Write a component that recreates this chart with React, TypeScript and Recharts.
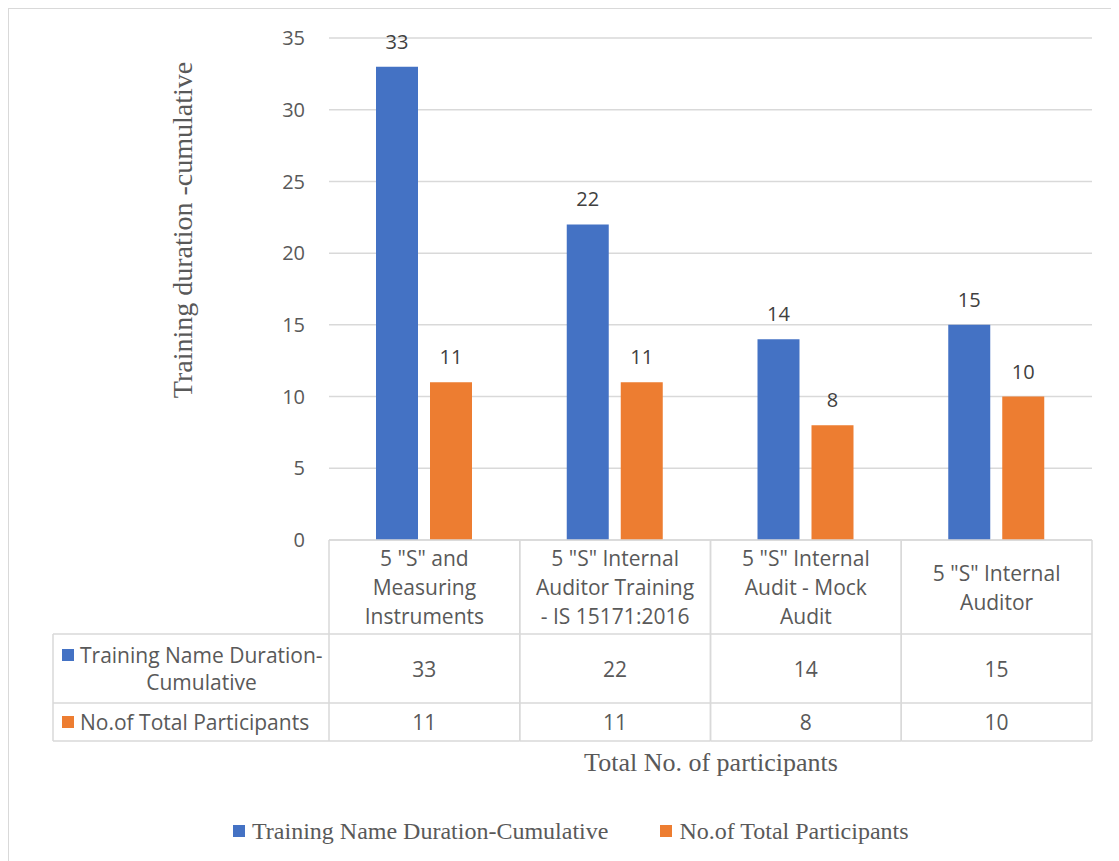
import { BarChart, Bar, XAxis, YAxis, CartesianGrid, LabelList } from 'recharts'

const categories = [
  '5 "S" and Measuring Instruments',
  '5 "S" Internal Auditor Training - IS 15171:2016',
  '5 "S" Internal Audit - Mock Audit',
  '5 "S" Internal Auditor',
]
const durationValues = [33, 22, 14, 15]
const participantValues = [11, 11, 8, 10]
const yTicks = [0, 5, 10, 15, 20, 25, 30, 35]
const seriesNames = ['Training Name Duration-Cumulative', 'No.of Total Participants']
const seriesKeys = ['duration', 'participants']
const seriesColors = ['#4472C4', '#ED7D31']

const data = categories.map((name, i) => ({
  name,
  duration: durationValues[i],
  participants: participantValues[i],
}))

const W = 1100
const H = 840
const MARGIN = { top: 29, right: 17, left: 0, bottom: 104 }
const Y_AXIS_W = 320
const X_AXIS_H = 205
const PLOT_W = W - MARGIN.left - MARGIN.right - Y_AXIS_W

const SANS = '"Open Sans", sans-serif'
const SERIF = '"Liberation Serif", "Times New Roman", serif'
const TEXT = '#595959'
const LINE = '#d9d9d9'

// table rows (relative to the axis top)
const HEADER_H = 94
const ROW2_H = 69
const ROW3_H = 38
const LEFT_COL_W = 276
const TABLE_FONT = 21

function wrap(text: string, max: number) {
  const words = text.split(' ')
  const lines: string[] = []
  let cur = ''
  words.forEach((w) => {
    const next = cur ? cur + ' ' + w : w
    if (next.length > max && cur) {
      lines.push(cur)
      cur = w
    } else {
      cur = next
    }
  })
  if (cur) lines.push(cur)
  return lines
}

function seriesLabelLines(name: string) {
  if (name.length > 26 && name.includes('-')) {
    const i = name.indexOf('-') + 1
    return [name.slice(0, i), name.slice(i)]
  }
  return [name]
}

function TableTick(props: any) {
  const { x, y, payload, index } = props
  const band = payload && payload.offset ? payload.offset * 2 : PLOT_W / categories.length
  const half = band / 2
  const left = x - half
  const right = x + half
  const yHead = y
  const yRow2 = y + HEADER_H
  const yRow3 = yRow2 + ROW2_H
  const yEnd = yRow3 + ROW3_H
  const lines = wrap(String(payload.value), 16)
  const lh = 29
  const headCenter = yHead + HEADER_H / 2
  const firstLine = headCenter - ((lines.length - 1) * lh) / 2
  const values = [durationValues[index], participantValues[index]]
  const rowCenters = [yRow2 + ROW2_H / 2, yRow3 + ROW3_H / 2]

  const lineStyle = { stroke: LINE, strokeWidth: 1.5 }
  return (
    <g>
      <line x1={left} x2={right} y1={yHead} y2={yHead} {...lineStyle} />
      <line x1={left} x2={right} y1={yRow2} y2={yRow2} {...lineStyle} />
      <line x1={left} x2={right} y1={yRow3} y2={yRow3} {...lineStyle} />
      <line x1={left} x2={right} y1={yEnd} y2={yEnd} {...lineStyle} />
      <line x1={left} x2={left} y1={yHead} y2={yEnd} {...lineStyle} />
      <line x1={right} x2={right} y1={yHead} y2={yEnd} {...lineStyle} />
      {lines.map((l, i) => (
        <text
          key={i}
          x={x}
          y={firstLine + i * lh}
          textAnchor="middle"
          dominantBaseline="central"
          fill={TEXT}
          fontSize={TABLE_FONT}
          fontFamily={SANS}
        >
          {l}
        </text>
      ))}
      {values.map((v, i) => (
        <text
          key={'v' + i}
          x={x}
          y={rowCenters[i]}
          textAnchor="middle"
          dominantBaseline="central"
          fill={TEXT}
          fontSize={TABLE_FONT}
          fontFamily={SANS}
        >
          {v}
        </text>
      ))}
      {index === 0 && (
        <g>
          <line x1={left - LEFT_COL_W} x2={left} y1={yRow2} y2={yRow2} {...lineStyle} />
          <line x1={left - LEFT_COL_W} x2={left} y1={yRow3} y2={yRow3} {...lineStyle} />
          <line x1={left - LEFT_COL_W} x2={left} y1={yEnd} y2={yEnd} {...lineStyle} />
          <line
            x1={left - LEFT_COL_W}
            x2={left - LEFT_COL_W}
            y1={yRow2}
            y2={yEnd}
            {...lineStyle}
          />
          {seriesNames.map((name, si) => {
            const sl = seriesLabelLines(name)
            const rowTop = si === 0 ? yRow2 : yRow3
            const rowH = si === 0 ? ROW2_H : ROW3_H
            const slh = 27
            const first = rowTop + rowH / 2 - ((sl.length - 1) * slh) / 2
            const colLeft = left - LEFT_COL_W
            const textStart = colLeft + 27
            const textCx = colLeft + 27 + (LEFT_COL_W - 27 - 6) / 2
            return (
              <g key={name}>
                <rect x={colLeft + 9} y={first - 6} width={12} height={12} fill={seriesColors[si]} />
                {sl.map((l, li) => (
                  <text
                    key={li}
                    x={li === 0 ? textStart : textCx}
                    y={first + li * slh}
                    textAnchor={li === 0 ? 'start' : 'middle'}
                    dominantBaseline="central"
                    fill={TEXT}
                    fontSize={TABLE_FONT}
                    fontFamily={SANS}
                  >
                    {l}
                  </text>
                ))}
              </g>
            )
          })}
        </g>
      )}
    </g>
  )
}

export default function App() {
  return (
    <div
      style={{
        position: 'relative',
        width: 1125,
        height: 870,
        border: `1px solid ${LINE}`,
        boxSizing: 'border-box',
        background: '#fff',
      }}
    >
      <BarChart
        width={W}
        height={H}
        data={data}
        margin={MARGIN}
        barCategoryGap={47}
        barGap={12}
      >
        <CartesianGrid vertical={false} stroke={LINE} strokeWidth={1.5} />
        <XAxis
          dataKey="name"
          height={X_AXIS_H}
          axisLine={false}
          tickLine={false}
          tickSize={0}
          tickMargin={0}
          interval={0}
          tick={<TableTick />}
        />
        <YAxis
          width={Y_AXIS_W}
          domain={[0, 35]}
          ticks={yTicks}
          axisLine={false}
          tickLine={false}
          tickSize={0}
          tickMargin={24}
          tick={{ fill: TEXT, fontSize: 20, fontFamily: SANS }}
        />
        {seriesKeys.map((k, i) => (
          <Bar key={k} dataKey={k} name={seriesNames[i]} fill={seriesColors[i]} isAnimationActive={false}>
            <LabelList
              dataKey={k}
              position="top"
              offset={18}
              fill="#404040"
              fontSize={20}
              fontFamily={SANS}
            />
          </Bar>
        ))}
      </BarChart>
      <div
        style={{
          position: 'absolute',
          left: -26,
          top: 207,
          width: 400,
          height: 28,
          lineHeight: '28px',
          textAlign: 'center',
          transform: 'rotate(-90deg)',
          fontFamily: SERIF,
          fontSize: 28,
          color: TEXT,
          whiteSpace: 'nowrap',
        }}
      >
        Training duration -cumulative
      </div>
      <div
        style={{
          position: 'absolute',
          left: 502,
          top: 740,
          width: 400,
          lineHeight: '28px',
          textAlign: 'center',
          fontFamily: SERIF,
          fontSize: 26,
          color: TEXT,
          whiteSpace: 'nowrap',
        }}
      >
        Total No. of participants
      </div>
      <div
        style={{
          position: 'absolute',
          left: 224,
          top: 808,
          display: 'flex',
          alignItems: 'center',
          gap: 52,
          fontFamily: SERIF,
          fontSize: 24,
          color: TEXT,
          lineHeight: '28px',
          whiteSpace: 'nowrap',
        }}
      >
        {seriesNames.map((n, i) => (
          <div key={n} style={{ display: 'flex', alignItems: 'center', gap: 7 }}>
            <span style={{ display: 'inline-block', width: 12, height: 12, background: seriesColors[i] }} />
            <span>{n}</span>
          </div>
        ))}
      </div>
    </div>
  )
}
